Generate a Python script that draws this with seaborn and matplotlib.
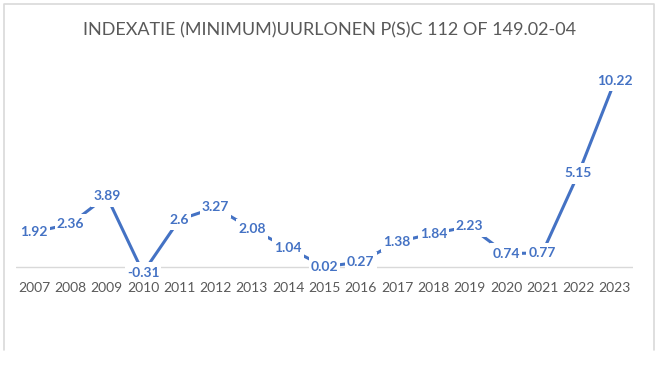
import matplotlib
matplotlib.use("Agg")
import matplotlib.pyplot as plt
import pandas as pd
import seaborn as sns
from matplotlib.lines import Line2D
from matplotlib.path import Path

# --- data ---
years = ["2007", "2008", "2009", "2010", "2011", "2012", "2013", "2014", "2015",
         "2016", "2017", "2018", "2019", "2020", "2021", "2022", "2023"]
values = [1.92, 2.36, 3.89, -0.31, 2.6, 3.27, 2.08, 1.04, 0.02,
          0.27, 1.38, 1.84, 2.23, 0.74, 0.77, 5.15, 10.22]
title = "INDEXATIE (MINIMUM)UURLONEN P(S)C 112 OF 149.02-04"

df = pd.DataFrame({"jaar": years, "index": values})
df["pos"] = range(len(df))

sns.set_theme(style="white")
plt.rcParams["font.family"] = ["Lato", "DejaVu Sans"]

blue = "#4472C4"
gray = "#595959"
border = "#d9d9d9"


def label_box(x0, y0, width, height, mutation_size):
    # witte achtergrond, smal opzij, wat hoger boven/onder
    px = 0.15 * mutation_size
    py = 0.32 * mutation_size
    xa, xb = x0 - px, x0 + width + px
    ya, yb = y0 - py, y0 + height + py
    return Path([(xa, ya), (xb, ya), (xb, yb), (xa, yb), (xa, ya)], closed=True)


fig = plt.figure(figsize=(6.61, 3.65), dpi=100)

# rand van de grafiek (zonder onderkant, screenshot is afgesneden)
bx0, bx1 = 4 / 661, 654 / 661
by0, by1 = 1 - 350 / 365, 1 - 4 / 365
fig.lines.append(Line2D([bx0, bx0, bx1, bx1], [by0, by1, by1, by0],
                        transform=fig.transFigure, color=border, linewidth=1.2))

ax = fig.add_axes([16 / 661, 90 / 365, 617 / 661, 226.4 / 365])
sns.lineplot(data=df, x="pos", y="index", ax=ax, color=blue, linewidth=2.2, sort=False)

# data labels op de punten
for x, y in zip(df["pos"], df["index"]):
    ax.text(x, y, f"{y:g}", ha="center", va="center", fontsize=10, fontweight="bold",
            color=blue, zorder=5,
            bbox=dict(boxstyle=label_box, facecolor="white", edgecolor="none"))

ax.axhline(0, color=border, linewidth=1.0, zorder=0)
ax.set_xlim(-0.5, len(years) - 0.5)
ax.set_ylim(-0.44, 12.0)
ax.set_xticks(df["pos"])
ax.set_xticklabels(years, color=gray, fontsize=10)
ax.tick_params(axis="x", length=0, pad=5)
ax.xaxis.set_zorder(6)  # jaartallen boven de witte labelvakjes
ax.set_yticks([])
ax.set_xlabel("")
ax.set_ylabel("")
for s in ax.spines.values():
    s.set_visible(False)

fig.text(330 / 661, 1 - 30 / 365, title, ha="center", va="center",
         fontsize=13, color=gray)

fig.savefig("out.png", dpi=100)
